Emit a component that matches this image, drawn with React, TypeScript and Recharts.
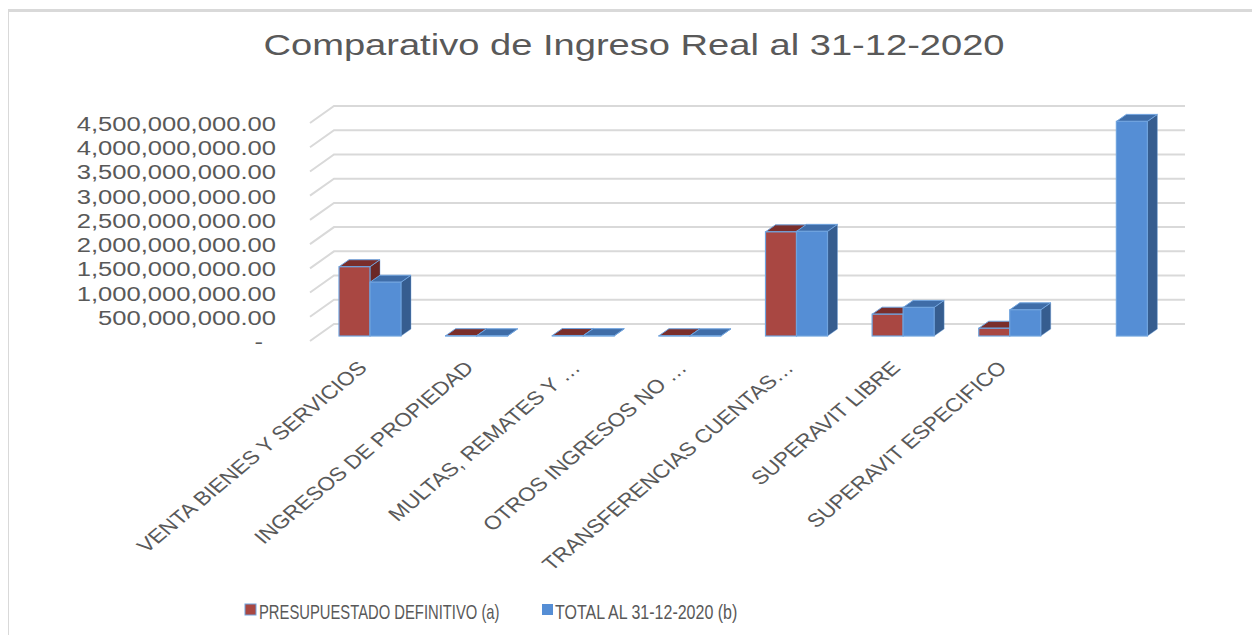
import React from 'react';
import { BarChart, Bar, XAxis, YAxis, CartesianGrid } from 'recharts';

const title = 'Comparativo de Ingreso Real al 31-12-2020';
const categories = [
  'VENTA BIENES Y SERVICIOS',
  'INGRESOS DE PROPIEDAD',
  'MULTAS, REMATES Y …',
  'OTROS INGRESOS NO …',
  'TRANSFERENCIAS CUENTAS…',
  'SUPERAVIT LIBRE',
  'SUPERAVIT ESPECIFICO',
  '',
];
const presupuestado = [1430000000, 6000000, 9000000, 5000000, 2150000000, 450000000, 160000000, null];
const totalReal = [1110000000, 4000000, 7000000, 3000000, 2160000000, 590000000, 540000000, 4430000000];
const yTicks = [0, 500000000, 1000000000, 1500000000, 2000000000, 2500000000, 3000000000, 3500000000, 4000000000, 4500000000];
const seriesNames = ['PRESUPUESTADO DEFINITIVO (a)', 'TOTAL AL 31-12-2020 (b)'];

const data = categories.map((name, i) => ({ name, a: presupuestado[i], b: totalReal[i] }));

const FONT = '"Liberation Sans", Arial, sans-serif';
const TEXT = '#595959';
const GRID = '#d9d9d9';
const EDGE = '#6fa3de';
const RED = { front: '#a94742', top: '#7a2e2b', side: '#6b2826' };
const BLUE = { front: '#558ed5', top: '#3f6da8', side: '#365d8f' };
const DX = 10;
const DY = 7;

const makeShape = (c: { front: string; top: string; side: string }) => (props: any) => {
  const { x, y, width: w, height: h } = props;
  if (w == null || h == null || isNaN(x) || isNaN(y)) return <g />;
  return (
    <g>
      <polygon
        points={`${x + w},${y} ${x + w + DX},${y - DY} ${x + w + DX},${y + h - DY} ${x + w},${y + h}`}
        fill={c.side}
        stroke={EDGE}
        strokeOpacity={0.5}
        strokeWidth={0.8}
      />
      <polygon
        points={`${x},${y} ${x + DX},${y - DY} ${x + w + DX},${y - DY} ${x + w},${y}`}
        fill={c.top}
        stroke={EDGE}
        strokeWidth={1}
      />
      <rect x={x} y={y} width={w} height={Math.max(h, 0)} fill={c.front} stroke={EDGE} strokeWidth={1.2} />
    </g>
  );
};

const fmt = (v: number) =>
  v.toLocaleString('en-US', { minimumFractionDigits: 2, maximumFractionDigits: 2 });

const YTick = (props: any) => {
  const { y, payload } = props;
  const v = payload.value as number;
  const label = v === 0 ? '-' : fmt(v);
  const xEnd = v === 0 ? 263 : 276;
  return (
    <g transform={`translate(${xEnd},${y + 13}) scale(1.28,1)`}>
      <text x={0} y={0} textAnchor="end" fontSize={20} fontFamily={FONT} fill={TEXT}>
        {label}
      </text>
    </g>
  );
};

const XTick = (props: any) => {
  const { x, y, payload } = props;
  if (!payload.value) return <g />;
  return (
    <g transform={`translate(${x - 2},${y + 33}) scale(1.2,1) rotate(-45)`}>
      <text x={0} y={0} textAnchor="end" fontSize={19} fontFamily={FONT} fill={TEXT}>
        {payload.value}
      </text>
    </g>
  );
};

const GridLine = (props: any) => {
  const { x1, y1, x2, index } = props;
  return (
    <polyline
      key={`g-${index}`}
      points={`${x1 - 7},${y1 + 5} ${x1 + 17},${y1 - 12} ${x2 + 15},${y1 - 12}`}
      fill="none"
      stroke={GRID}
      strokeWidth={2}
    />
  );
};

export default function App() {
  return (
    <div style={{ margin: -8, width: 1260, height: 643, position: 'relative', background: '#fff', overflow: 'hidden' }}>
      <div style={{ position: 'absolute', left: 0, top: 0 }}>
        <BarChart
          width={1260}
          height={643}
          data={data}
          margin={{ top: 118, right: 90, left: 0, bottom: 77 }}
          barSize={31}
          barGap={0}
        >
          <CartesianGrid vertical={false} horizontal={GridLine} />
          <XAxis
            dataKey="name"
            interval={0}
            height={230}
            axisLine={false}
            tickLine={false}
            tickSize={0}
            tickMargin={0}
            tick={XTick}
          />
          <YAxis
            width={317}
            domain={[0, 4500000000]}
            ticks={yTicks}
            axisLine={false}
            tickLine={false}
            tick={YTick}
          />
          <Bar dataKey="a" name={seriesNames[0]} fill={RED.front} shape={makeShape(RED)} isAnimationActive={false} />
          <Bar dataKey="b" name={seriesNames[1]} fill={BLUE.front} shape={makeShape(BLUE)} isAnimationActive={false} />
        </BarChart>
      </div>
      <svg width={1260} height={643} style={{ position: 'absolute', left: 0, top: 0, pointerEvents: 'none' }}>
        <line x1={7.5} y1={9} x2={7.5} y2={643} stroke={GRID} strokeWidth={3} />
        <line x1={6} y1={10.5} x2={1260} y2={10.5} stroke={GRID} strokeWidth={3} />
        <g transform="translate(634,55) scale(1.27,1)">
          <text x={0} y={0} textAnchor="middle" fontSize={30} fontFamily={FONT} fill={TEXT}>
            {title}
          </text>
        </g>
        <rect x={245} y={604} width={11} height={11} fill={RED.front} stroke={EDGE} strokeWidth={1} />
        <g transform="translate(259,619) scale(0.74,1)">
          <text x={0} y={0} fontSize={20} fontFamily={FONT} fill={TEXT}>
            {seriesNames[0]}
          </text>
        </g>
        <rect x={542} y={604} width={11} height={11} fill={BLUE.front} />
        <g transform="translate(555,619) scale(0.8,1)">
          <text x={0} y={0} fontSize={20} fontFamily={FONT} fill={TEXT}>
            {seriesNames[1]}
          </text>
        </g>
      </svg>
    </div>
  );
}
